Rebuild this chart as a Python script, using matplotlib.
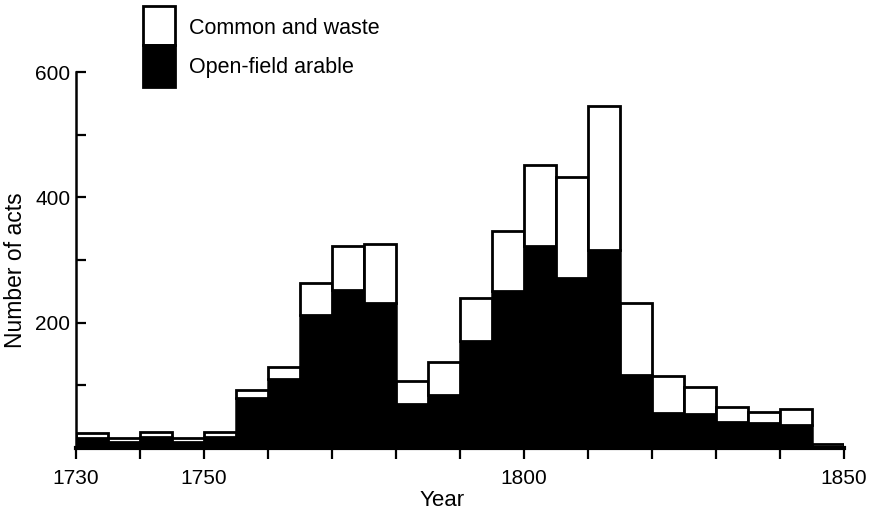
import numpy as np
import matplotlib
matplotlib.use("Agg")
import matplotlib.pyplot as plt
from matplotlib.patches import Rectangle

plt.rcParams['font.family'] = ['Liberation Sans', 'DejaVu Sans']

# tranches de 5 ans, 1730-1850
bin_start = np.arange(1730, 1850, 5)
open_field = [16, 9, 18, 9, 18, 80, 110, 213, 252, 231, 71, 85,
              170, 250, 322, 271, 316, 117, 56, 54, 41, 40, 37, 0]
common_waste = [8, 7, 8, 7, 7, 13, 20, 50, 71, 94, 36, 52,
                69, 97, 129, 161, 229, 115, 59, 44, 24, 17, 25, 6]

x_ticks = np.arange(1730, 1851, 10)
x_labels = {1730: "1730", 1750: "1750", 1800: "1800", 1850: "1850"}
y_ticks = np.arange(100, 601, 100)
y_labels = {200: "200", 400: "400", 600: "600"}

W, H = 877, 513
fig = plt.figure(figsize=(W / 100, H / 100), dpi=100)
ax = fig.add_axes([76 / W, (H - 448) / H, 768 / W, (448 - 72) / H])

open_field = np.array(open_field)
common_waste = np.array(common_waste)

ax.bar(bin_start, open_field, width=5, align='edge',
       color='black', edgecolor='black', linewidth=1.8)
ax.bar(bin_start, common_waste, width=5, bottom=open_field, align='edge',
       color='white', edgecolor='black', linewidth=2.0)

ax.set_xlim(1730, 1850)
ax.set_ylim(0, 600)

for s in ['top', 'right']:
    ax.spines[s].set_visible(False)
ax.spines['left'].set_linewidth(1.8)
ax.spines['bottom'].set_linewidth(3)

ax.set_xticks(x_ticks)
ax.set_xticklabels([x_labels.get(int(t), "") for t in x_ticks], fontsize=15)
ax.set_yticks(y_ticks)
ax.set_yticklabels([y_labels.get(int(t), "") for t in y_ticks], fontsize=15)
ax.tick_params(axis='x', direction='out', length=8, width=1.6, pad=7)
ax.tick_params(axis='y', direction='in', length=7, width=1.6, pad=4)

ax.set_xlabel("Year", fontsize=16)
ax.xaxis.set_label_coords((442 - 76) / 768, -0.112)
ax.set_ylabel("Number of acts", fontsize=16.5)
ax.yaxis.set_label_coords(-0.064, 0.473)

# légende dessinée à la main : deux cases empilées
fig.add_artist(Rectangle((143 / W, (H - 45) / H), 32 / W, 39 / H,
                         transform=fig.transFigure, facecolor='white',
                         edgecolor='black', linewidth=2.0))
fig.add_artist(Rectangle((143 / W, (H - 87) / H), 32 / W, 42 / H,
                         transform=fig.transFigure, facecolor='black',
                         edgecolor='black', linewidth=2.0))
fig.text(189 / W, (H - 28) / H, "Common and waste", fontsize=15.5, va='center')
fig.text(189 / W, (H - 68) / H, "Open-field arable", fontsize=15.5, va='center')

fig.savefig("out.png", dpi=100)
